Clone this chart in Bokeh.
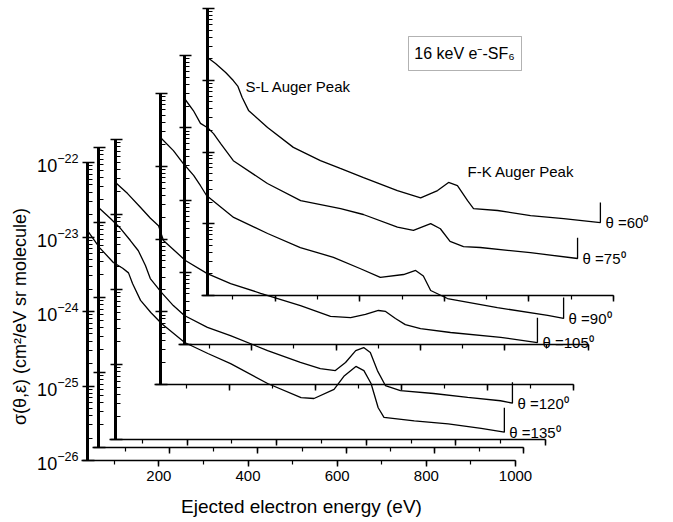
import math
from bokeh.plotting import figure
from bokeh.models import (Range1d, LinearScale, LogScale, LinearAxis, LogAxis,
                          LogTicker, SingleIntervalTicker, Label, BoxAnnotation)
from bokeh.embed import file_html
from bokeh.resources import INLINE
from bokeh.core.properties import value

# ---------------- data ----------------
angles = [60, 75, 90, 105, 120, 135]
angle_labels = ["θ =60⁰", "θ =75⁰", "θ =90⁰", "θ =105⁰", "θ =120⁰", "θ =135⁰"]

energy_60 = [40, 59, 83, 101, 112, 122, 137, 182, 243, 307, 354, 409, 489, 544, 584, 610,
             631, 655, 669, 726, 804, 882, 969, 969]
sigma_60 = [2.07e-23, 1.71e-23, 1.28e-23, 9.9e-24, 8.2e-24, 5.75e-24, 3.8e-24, 2.2e-24,
            1.16e-24, 7.6e-25, 5.9e-25, 4.4e-25, 2.9e-25, 2.3e-25, 2.9e-25, 3.76e-25,
            3.4e-25, 2.1e-25, 1.63e-25, 1.53e-25, 1.30e-25, 1.18e-25, 1.04e-25, 1.98e-25]

energy_75 = [40, 61, 78, 95, 109, 126, 156, 237, 316, 411, 465, 546, 584, 625, 648, 671,
             703, 743, 862, 974, 974]
sigma_75 = [2.54e-23, 1.73e-23, 1.15e-23, 1.0e-23, 8.3e-24, 6.05e-24, 3.5e-24, 1.69e-24,
            9.8e-25, 7.6e-25, 6.3e-25, 4.2e-25, 3.8e-25, 4.7e-25, 4.0e-25, 2.67e-25,
            2.27e-25, 2.2e-25, 1.87e-25, 1.55e-25, 3.0e-25]

energy_90 = [40, 70, 93, 117, 133, 147, 210, 289, 365, 442, 505, 551, 605, 633, 651, 668,
             707, 823, 940, 977, 977]
sigma_90 = [2.48e-23, 1.64e-23, 1.09e-23, 7.5e-24, 5.4e-24, 3.96e-24, 1.98e-24, 1.19e-24,
            7.6e-25, 5.6e-25, 3.9e-25, 2.96e-25, 3.25e-25, 3.7e-25, 3.1e-25, 1.96e-25,
            1.52e-25, 1.14e-25, 8.9e-26, 8.1e-26, 1.57e-25]

energy_105 = [40, 67, 96, 118, 136, 147, 196, 245, 297, 364, 453, 520, 565, 598, 627, 643,
              665, 687, 721, 788, 900, 982, 982]
sigma_105 = [2.67e-23, 1.9e-23, 1.24e-23, 8.9e-24, 7.1e-24, 4.5e-24, 2.44e-24, 1.63e-24,
             1.2e-24, 8.9e-25, 6.1e-25, 4.37e-25, 4.23e-25, 4.65e-25, 5.25e-25, 5.1e-25,
             4.1e-25, 3.4e-25, 3.0e-25, 2.67e-25, 2.3e-25, 1.96e-25, 4.2e-25]

energy_120 = [40, 67, 90, 112, 130, 146, 157, 182, 209, 234, 286, 338, 422, 496, 541, 575,
              598, 621, 639, 654, 670, 688, 722, 797, 874, 948, 975, 975]
sigma_120 = [1.58e-23, 1.13e-23, 8.3e-24, 5.75e-24, 4.2e-24, 2.67e-24, 1.79e-24, 1.17e-24,
             7.8e-25, 5.75e-25, 4.0e-25, 3.1e-25, 1.96e-25, 1.36e-25, 1.13e-25, 1.06e-25,
             1.36e-25, 1.96e-25, 2.15e-25, 1.85e-25, 1.06e-25, 6.7e-26, 5.75e-26, 5.25e-26,
             4.65e-26, 4.2e-26, 3.9e-26, 7.4e-26]

energy_135 = [40, 67, 98, 119, 132, 141, 159, 182, 206, 258, 310, 361, 444, 519, 548, 593,
              615, 642, 660, 676, 692, 705, 773, 849, 923, 975, 975]
sigma_135 = [1.22e-23, 7.2e-24, 4.55e-24, 3.8e-24, 3.3e-24, 2.38e-24, 1.41e-24, 9.7e-25,
             6.9e-25, 3.84e-25, 2.73e-25, 2.0e-25, 1.08e-25, 7.0e-26, 6.8e-26, 9.0e-26,
             1.35e-25, 1.83e-25, 1.61e-25, 1.08e-25, 5.1e-26, 3.8e-26, 3.4e-26, 3.1e-26,
             2.7e-26, 2.4e-26, 5.1e-26]

series = {60: (energy_60, sigma_60), 75: (energy_75, sigma_75), 90: (energy_90, sigma_90),
          105: (energy_105, sigma_105), 120: (energy_120, sigma_120), 135: (energy_135, sigma_135)}

x_axis_start = 40
x_axis_end = 1000
x_tick_step = 200
y_axis_low = 1e-26
y_axis_high = 1e-22

# ---------------- layout (pixel boxes of each offset frame) ----------------
W, H = 673, 522
PL, PR, PT, PB = 0, W, 0, H               # plot frame covers the whole canvas
# left-axis px, px of 1000 eV, bottom px, top px
BOX = {60: (207, 613, 295, 8), 75: (184, 588, 344, 55), 90: (160, 573, 384, 93),
       105: (115, 545, 439, 139), 120: (98, 523, 447, 147), 135: (87, 515, 460, 162)}
FONT = "Liberation Sans"
DEC = math.log10(y_axis_high) - math.log10(y_axis_low)


def frame_ranges(box):
    L, R, B, T = box
    s = (R - L) / (x_axis_end - x_axis_start)
    d = (B - T) / DEC
    lo = math.log10(y_axis_low)
    xr = Range1d(x_axis_start + (PL - L) / s, x_axis_start + (PR - L) / s)
    yr = Range1d(10 ** (lo + (B - PB) / d), 10 ** (lo + (B - PT) / d))
    return xr, yr, s


main_x, main_y, s_main = frame_ranges(BOX[135])
d_main = (BOX[135][2] - BOX[135][3]) / DEC


def ex(X):
    return x_axis_start + (X - BOX[135][0]) / s_main


def vy(Y):
    return 10 ** (math.log10(y_axis_low) + (BOX[135][2] - Y) / d_main)


p = figure(width=W, height=H, frame_width=W, frame_height=H,
           min_border=0, min_border_left=0, min_border_right=0, min_border_top=0,
           min_border_bottom=0, x_range=main_x, y_range=main_y,
           y_axis_type="log", x_axis_location=None, y_axis_location=None,
           output_backend="svg", toolbar_location=None)
p.outline_line_color = None
p.xgrid.visible = False
p.ygrid.visible = False
p.background_fill_color = "white"
p.border_fill_color = "white"


def style_left(ax):
    ax.axis_line_width = 3
    ax.axis_line_color = "black"
    ax.major_tick_line_width = 1.6
    ax.minor_tick_line_width = 1.2
    ax.major_tick_out = 5
    ax.major_tick_in = 7
    ax.minor_tick_out = 1
    ax.minor_tick_in = 5
    ax.major_label_standoff = 4


def style_bottom(ax):
    ax.axis_line_width = 1.6
    ax.axis_line_color = "black"
    ax.major_tick_line_width = 1.5
    ax.minor_tick_line_width = 1.2
    ax.major_tick_out = 6
    ax.major_tick_in = 0
    ax.minor_tick_out = 4
    ax.minor_tick_in = 0
    ax.major_label_standoff = 4


for ang in angles:
    E, S = series[ang]
    front = ang == 135
    if front:
        xn, yn = "default", "default"
        s = s_main
    else:
        xn, yn = f"x{ang}", f"y{ang}"
        xr, yr, s = frame_ranges(BOX[ang])
        p.extra_x_ranges[xn] = xr
        p.extra_y_ranges[yn] = yr
        p.extra_x_scales[xn] = LinearScale()
        p.extra_y_scales[yn] = LogScale()
    la = LogAxis(x_range_name=xn, y_range_name=yn, fixed_location=x_axis_start,
                 bounds=(y_axis_low, y_axis_high), ticker=LogTicker(num_minor_ticks=10))
    style_left(la)
    ba = LinearAxis(x_range_name=xn, y_range_name=yn, fixed_location=y_axis_low,
                    bounds=(x_axis_start - 6 / s, x_axis_end),
                    ticker=SingleIntervalTicker(interval=x_tick_step, num_minor_ticks=2))
    style_bottom(ba)
    if front:
        la.major_label_text_font = FONT
        la.major_label_text_font_size = "18px"
        la.major_label_text_color = "black"
        ba.major_label_text_font = FONT
        ba.major_label_text_font_size = "15px"
        ba.major_label_text_color = "black"
    else:
        la.major_label_text_color = None
        ba.major_label_text_color = None
    p.add_layout(la, "left")
    p.add_layout(ba, "below")
    kw = {} if front else dict(x_range_name=xn, y_range_name=yn)
    p.line(E, S, line_color="black", line_width=1.3, **kw)
    p.text(x=[E[-2]], y=[S[-2]], text=[angle_labels[angles.index(ang)]],
           x_offset=5, text_baseline="middle", text_align="left",
           text_font=value(FONT), text_font_size="15px", text_color="black", **kw)

# annotations
p.add_layout(Label(x=ex(245), y=vy(86), text="S-L Auger Peak", text_font=FONT,
                   text_font_size="15px", text_color="black",
                   text_baseline="middle", text_align="left"))
p.add_layout(Label(x=ex(467), y=vy(171), text="F-K Auger Peak", text_font=FONT,
                   text_font_size="15px", text_color="black",
                   text_baseline="middle", text_align="left"))
p.add_layout(BoxAnnotation(left=ex(408), right=ex(521), top=vy(36), bottom=vy(70),
                           fill_alpha=0, line_color="black", line_width=1))
p.add_layout(Label(x=ex(464), y=vy(53), text="16 keV e⁻-SF₆", text_font=FONT,
                   text_font_size="16px", text_color="black",
                   text_baseline="middle", text_align="center"))
p.add_layout(Label(x=ex(301), y=vy(506), text="Ejected electron energy (eV)",
                   text_font=FONT, text_font_size="19px", text_color="black",
                   text_baseline="middle", text_align="center"))
p.add_layout(Label(x=ex(19), y=vy(316), text="σ(θ,ε) (cm²/eV sr molecule)",
                   text_font=FONT, text_font_size="18px", text_color="black",
                   text_baseline="middle", text_align="center", angle=math.pi / 2))

open("out.html", "w").write(file_html(p, INLINE))
